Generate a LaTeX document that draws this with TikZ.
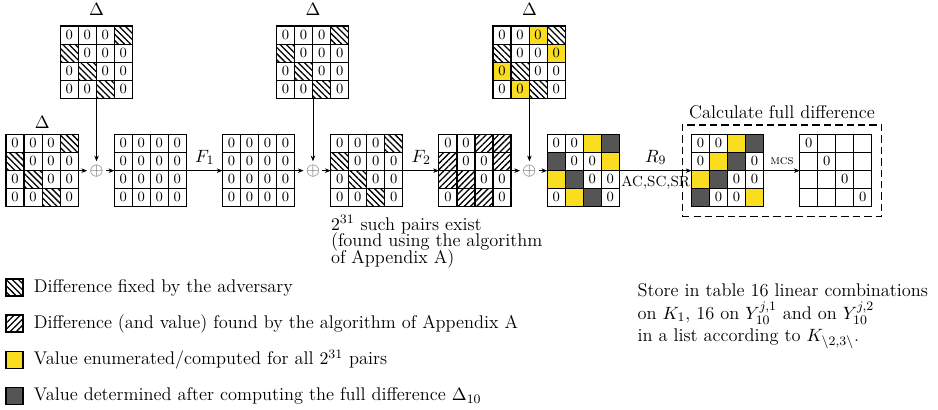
\documentclass[tikz,border=0pt]{standalone}
\usepackage{tikz}
\usetikzlibrary{
  arrows.meta,
  positioning, fit, calc,
  patterns.meta
}
\usepackage{amsmath, amssymb}
\usepackage{xcolor}

\definecolor{enumyellow}{RGB}{250,221,30}
\definecolor{fulldark}{RGB}{85,85,85}

\tikzset{
  cellbox/.style={draw, line width=0.7pt, minimum size=0.39cm,
    inner sep=0pt, font=\fontsize{8.7}{10}\selectfont},
  adv hatch/.style={pattern={Lines[angle=-45, distance=2.7pt, line width=0.8pt]}},
  alg hatch/.style={pattern={Lines[angle=45, distance=2.7pt, line width=0.8pt]}},
  cell z/.style={cellbox, node contents={0}},
  cell e/.style={cellbox, node contents={}},
  cell a/.style={cellbox, adv hatch, node contents={}},
  cell f/.style={cellbox, alg hatch, node contents={}},
  cell y/.style={cellbox, fill=enumyellow, node contents={0}},
  cell Y/.style={cellbox, fill=enumyellow, node contents={}},
  cell d/.style={cellbox, fill=fulldark, node contents={}},
  gridframe/.style={minimum size=1.56cm, inner sep=0pt, anchor=south west},
  xorsym/.style={circle, inner sep=0pt, text=black!70, font=\fontsize{10.5}{12}\selectfont},
  legbox/.style={draw, line width=0.8pt, minimum size=0.37cm, inner sep=0pt},
}

% a 4x4 state: name, lower left corner, 16 cell codes row by row
\newcommand{\stategrid}[3]{%
  \node[gridframe] (#1) at (#2) {};
  \foreach \code [count=\k from 0] in {#3} {
    \pgfmathtruncatemacro{\row}{\k/4}
    \pgfmathtruncatemacro{\col}{mod(\k,4)}
    \node[cell \code, name=#1-\row-\col,
          at={($(#1.north west)+(\col+0.5,-\row-0.5)$)}];
  }
}

\begin{document}
\begin{tikzpicture}[x=0.39cm, y=0.39cm, >={Stealth[length=3.5pt, width=2.8pt]},
  font=\fontsize{11.3}{14}\selectfont]
  \useasboundingbox (-0.333,-11.25) rectangle (51.67,11.48);

  % states along the trail
  \stategrid{st0}{0,0}{z,z,z,a, a,z,z,z, z,a,z,z, z,z,a,z}
  \stategrid{st1}{6,0}{z,z,z,z, z,z,z,z, z,z,z,z, z,z,z,z}
  \stategrid{st2}{12,0}{z,z,z,z, z,z,z,z, z,z,z,z, z,z,z,z}
  \stategrid{st3}{18,0}{z,z,z,a, a,z,z,z, z,a,z,z, z,z,a,z}
  \stategrid{st4}{24,0}{z,z,f,f, f,z,z,f, f,f,z,z, z,f,f,z}
  \stategrid{st5}{30,0}{z,z,Y,d, d,z,z,Y, Y,d,z,z, z,Y,d,z}
  \stategrid{st6}{38,0}{z,z,Y,d, z,Y,d,z, Y,d,z,z, d,z,z,Y}
  \stategrid{st7}{44,0}{z,e,e,e, e,z,e,e, e,e,z,e, e,e,e,z}

  % injected differences
  \stategrid{dl1}{3,6}{z,z,z,a, a,z,z,z, z,a,z,z, z,z,a,z}
  \stategrid{dl2}{15,6}{z,z,z,a, a,z,z,z, z,a,z,z, z,z,a,z}
  \stategrid{dl3}{27,6}{z,z,y,a, a,z,z,y, y,a,z,z, z,y,a,z}

  \node[above=0pt of st0] (d0lab) {$\Delta$};
  \node[above=2.8pt of dl1] (d1lab) {$\Delta$};
  \node[above=2.8pt of dl2] (d2lab) {$\Delta$};
  \node[above=2.8pt of dl3] (d3lab) {$\Delta$};

  \node[xorsym] (x1) at ($(st0.east)!0.5!(st1.west)$) {$\oplus$};
  \node[xorsym] (x2) at ($(st2.east)!0.5!(st3.west)$) {$\oplus$};
  \node[xorsym] (x3) at ($(st4.east)!0.5!(st5.west)$) {$\oplus$};

  \draw[->] (st0) -- (x1);
  \draw[->] (dl1) -- (x1);
  \draw[->] (x1) -- (st1);
  \draw[->] (st1) -- node[above] (f1lab) {$F_1$} (st2);
  \draw[->] (st2) -- (x2);
  \draw[->] (dl2) -- (x2);
  \draw[->] (x2) -- (st3);
  \draw[->] (st3) -- node[above] (f2lab) {$F_2$} (st4);
  \draw[->] (st4) -- (x3);
  \draw[->] (dl3) -- (x3);
  \draw[->] (x3) -- (st5);
  \draw[->] (st5) -- node[above] (r9lab) {$R_9$}
    node[below, font=\small] (oplab) {AC,SC,SR} (st6);
  \draw[->] (st6) -- node[above, font=\footnotesize] (mcslab) {\textsc{mcs}} (st7);

  % full difference box
  \node[draw, dashed, dash pattern=on 4.5pt off 2.5pt, line width=0.8pt,
        fit=(st6)(st7), inner sep=0.2cm] (fullbox) {};
  \node[above=0pt of fullbox] (fulllab) {Calculate full difference};

  \node[anchor=north west, inner sep=0pt, align=left] (pairs)
    at ($(st3.south west)+(0,-0.45)$)
    {$2^{31}$ such pairs exist\\[-3.8pt](found using the algorithm\\[-3.8pt]of Appendix A)};

  \node[anchor=north west, inner sep=0pt, align=left] (store) at (35,-4.21)
    {Store in table 16 linear combinations\\
     on $K_1$, 16 on $Y_{10}^{j,1}$ and on $Y_{10}^{j,2}$\\
     in a list according to $K_{\backslash 2,3\backslash}$.};

  % legend
  \node[legbox, adv hatch] (leg1) at (0.475,-4.46) {};
  \node[legbox, alg hatch] (leg2) at (0.475,-6.46) {};
  \node[legbox, fill=enumyellow] (leg3) at (0.475,-8.47) {};
  \node[legbox, fill=fulldark] (leg4) at (0.475,-10.47) {};
  \node[right=0.21cm of leg1, inner sep=0pt] (leg1txt) {Difference fixed by the adversary};
  \node[right=0.21cm of leg2, inner sep=0pt] (leg2txt) {Difference (and value) found by the algorithm of Appendix A};
  \node[right=0.21cm of leg3, inner sep=0pt] (leg3txt) {Value enumerated/computed for all $2^{31}$ pairs};
  \node[right=0.21cm of leg4, inner sep=0pt] (leg4txt) {Value determined after computing the full difference $\Delta_{10}$};
\end{tikzpicture}
\end{document}
